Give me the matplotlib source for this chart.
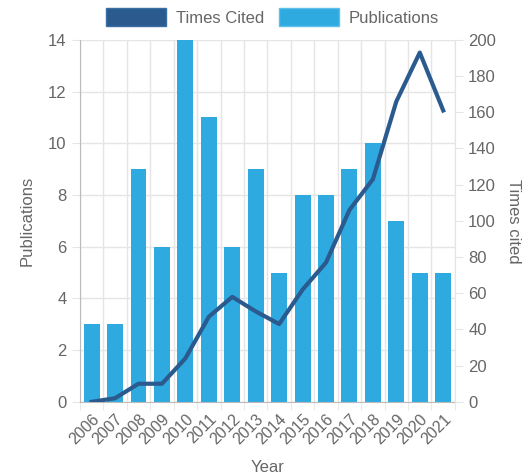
import numpy as np
import matplotlib
matplotlib.use("Agg")
import matplotlib.pyplot as plt
from matplotlib.patches import Patch

years = ["2006", "2007", "2008", "2009", "2010", "2011", "2012", "2013",
         "2014", "2015", "2016", "2017", "2018", "2019", "2020", "2021"]
publications = [3, 3, 9, 6, 14, 11, 6, 9, 5, 8, 8, 9, 10, 7, 5, 5]
times_cited = [0, 2, 10, 10, 24, 47, 58, 50, 43, 62, 77, 106, 123, 166, 193, 161]

bar_color = "#2eaae1"
line_color = "#2b5b8e"
text_color = "#666666"
grid_color = "#e5e5e5"

plt.rcParams['font.family'] = ['Liberation Sans', 'DejaVu Sans']

fig = plt.figure(figsize=(5.29, 4.75), dpi=100)
ax = fig.add_axes([0.151, 0.154, 0.709, 0.762])
x = np.arange(len(years))

ax.bar(x, publications, width=0.68, color=bar_color, zorder=2)
ax.set_xlim(-0.5, len(years) - 0.5)
ax.set_ylim(0, 14)
ax.set_yticks(range(0, 15, 2))
ax.set_xticks(x)
ax.set_xticklabels(years, rotation=45, ha="right", rotation_mode="anchor")
ax.set_xticks(np.arange(-0.5, len(years)), minor=True)
ax.grid(True, which="minor", axis="x", color=grid_color, lw=1, zorder=0)
ax.grid(True, which="major", axis="y", color=grid_color, lw=1, zorder=0)
ax.tick_params(axis="x", which="major", length=0, colors=text_color, labelsize=11.5, pad=7)
ax.tick_params(axis="x", which="minor", length=6, color=grid_color)
ax.tick_params(axis="y", length=6, color=grid_color, colors=text_color, labelsize=12)
for s in ["top", "right"]:
    ax.spines[s].set_visible(False)
ax.spines["left"].set_color("#bbbbbb")
ax.spines["bottom"].set_color("#bbbbbb")
ax.set_xlabel("Year", color=text_color, fontsize=12, labelpad=9)
ax.set_ylabel("Publications", color=text_color, fontsize=12, labelpad=10)

ax2 = ax.twinx()
ax2.plot(x, times_cited, color=line_color, lw=3, zorder=3)
ax2.set_ylim(0, 200)
ax2.set_yticks(range(0, 201, 20))
ax2.tick_params(axis="y", length=6, color=grid_color, colors=text_color, labelsize=12)
for s in ["top", "left", "bottom"]:
    ax2.spines[s].set_visible(False)
ax2.spines["right"].set_color(grid_color)
ax2.set_ylabel("Times cited", color=text_color, fontsize=12, rotation=270, labelpad=18)

handles = [Patch(facecolor=line_color, edgecolor="#3a6fa5"),
           Patch(facecolor=bar_color, edgecolor="#5cc0ea")]
fig.legend(handles, ["Times Cited", "Publications"], loc="upper center",
           bbox_to_anchor=(0.515, 1.015), ncol=2, frameon=False, fontsize=12,
           handlelength=3.6, handleheight=1.3, handletextpad=0.6,
           columnspacing=0.9, labelcolor=text_color)

fig.savefig("out.png", dpi=100)
